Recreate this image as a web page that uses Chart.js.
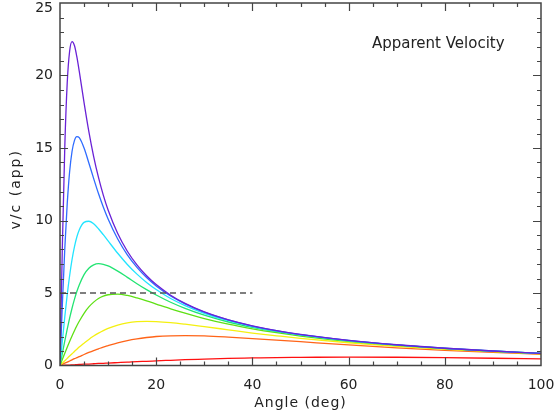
<!DOCTYPE html>
<html>
<head>
<meta charset="utf-8">
<script src="https://cdn.jsdelivr.net/npm/chart.js@4/dist/chart.umd.min.js"></script>
<style>
  html, body { margin: 0; padding: 0; background: #fff; }
  #wrap { width: 555px; height: 419px; }
</style>
</head>
<body>
<div id="wrap"><canvas id="velChart"></canvas></div>
<script>
// viewing angle (deg) and apparent speed
const angles = [0, 0.5, 1, 1.5, 2, 2.5, 3, 3.5, 4, 5, 6, 7, 8, 9, 10, 12, 14, 16, 18, 20, 23, 26, 30, 35, 40, 45, 50, 60, 70, 80, 90, 100];

const beta999 = [0, 8.40, 15.13, 19.48, 21.67, 22.34, 22.07, 21.30, 20.30, 18.13, 16.13, 14.41, 12.97, 11.75, 10.72, 9.10, 7.88, 6.94, 6.19, 5.58, 4.85, 4.29, 3.70, 3.15, 2.74, 2.41, 2.14, 1.73, 1.43, 1.19, 1.00, 0.84];
const beta998 = [0, 4.27, 8.09, 11.15, 13.36, 14.76, 15.51, 15.78, 15.71, 15.00, 13.97, 12.89, 11.86, 10.93, 10.10, 8.72, 7.63, 6.77, 6.07, 5.49, 4.79, 4.25, 3.68, 3.14, 2.72, 2.40, 2.13, 1.73, 1.42, 1.19, 1.00, 0.84];
const beta995 = [0, 1.72, 3.37, 4.88, 6.19, 7.30, 8.18, 8.86, 9.35, 9.87, 9.95, 9.77, 9.43, 9.02, 8.59, 7.74, 6.97, 6.30, 5.73, 5.24, 4.62, 4.13, 3.60, 3.09, 2.69, 2.37, 2.12, 1.72, 1.42, 1.18, 1.00, 0.84];
const beta990 = [0, 0.86, 1.70, 2.51, 3.26, 3.95, 4.56, 5.10, 5.56, 6.27, 6.71, 6.94, 7.02, 6.98, 6.87, 6.51, 6.08, 5.64, 5.23, 4.86, 4.36, 3.94, 3.47, 3.00, 2.63, 2.33, 2.09, 1.70, 1.41, 1.18, 0.99, 0.83];
const beta980 = [0, 0.43, 0.85, 1.26, 1.66, 2.04, 2.40, 2.74, 3.05, 3.60, 4.04, 4.37, 4.62, 4.78, 4.88, 4.92, 4.83, 4.66, 4.46, 4.24, 3.91, 3.61, 3.24, 2.85, 2.53, 2.26, 2.03, 1.66, 1.39, 1.16, 0.98, 0.82];
const beta950 = [0, 0.17, 0.33, 0.49, 0.66, 0.81, 0.97, 1.12, 1.27, 1.54, 1.80, 2.03, 2.23, 2.41, 2.56, 2.79, 2.94, 3.02, 3.04, 3.03, 2.96, 2.85, 2.68, 2.46, 2.24, 2.05, 1.87, 1.57, 1.32, 1.12, 0.95, 0.80];
const beta900 = [0, 0.08, 0.16, 0.23, 0.31, 0.39, 0.47, 0.54, 0.61, 0.76, 0.90, 1.03, 1.15, 1.27, 1.37, 1.56, 1.72, 1.84, 1.93, 2.00, 2.05, 2.06, 2.04, 1.96, 1.86, 1.75, 1.64, 1.42, 1.22, 1.05, 0.90, 0.77];
const beta500 = [0, 0.01, 0.02, 0.03, 0.03, 0.04, 0.05, 0.06, 0.07, 0.09, 0.10, 0.12, 0.14, 0.15, 0.17, 0.20, 0.23, 0.27, 0.29, 0.32, 0.36, 0.40, 0.44, 0.49, 0.52, 0.55, 0.56, 0.58, 0.57, 0.54, 0.50, 0.45];

// dashed reference at v/c = 5
const refAngles = [0, 40];
const refLevel = [5, 5];

const xTicks = [0, 20, 40, 60, 80, 100];
const yTicks = [0, 5, 10, 15, 20, 25];

const FONT = { family: 'DejaVu Sans', size: 14 };

function pts(xs, ys) {
    return xs.map((x, i) => ({ x: x, y: ys[i] }));
}

function curve(ys, color) {
    return {
        data: pts(angles, ys),
        borderColor: color,
        borderWidth: 1.3,
        pointRadius: 0,
        cubicInterpolationMode: 'monotone',
        fill: false
    };
}

// IDL style frame with inward ticks on all four sides, y labels and titles
const frame = {
    id: 'frame',
    afterDraw(chart) {
        const c = chart.ctx, a = chart.chartArea;
        const xs = chart.scales.x, ys = chart.scales.y;
        c.save();
        c.strokeStyle = '#444';
        c.lineWidth = 1.5;
        c.strokeRect(a.left, a.top, a.right - a.left, a.bottom - a.top);
        c.lineWidth = 1.2;
        c.beginPath();
        for (let v = 5; v < 100; v += 5) {
            const p = Math.round(xs.getPixelForValue(v)) + 0.5;
            const len = v % 20 === 0 ? 8 : 4;
            c.moveTo(p, a.bottom); c.lineTo(p, a.bottom - len);
            c.moveTo(p, a.top); c.lineTo(p, a.top + len);
        }
        for (let v = 1; v < 25; v++) {
            const p = Math.round(ys.getPixelForValue(v)) + 0.5;
            const len = v % 5 === 0 ? 8 : 4;
            c.moveTo(a.left, p); c.lineTo(a.left + len, p);
            c.moveTo(a.right, p); c.lineTo(a.right - len, p);
        }
        c.stroke();

        c.fillStyle = '#222';
        c.font = '14px "DejaVu Sans"';
        c.textBaseline = 'middle';
        c.textAlign = 'right';
        yTicks.forEach(v => {
            const p = Math.max(ys.getPixelForValue(v), a.top + 5.5);
            c.fillText(String(v), a.left - 7, p);
        });

        c.textAlign = 'center';
        c.letterSpacing = '1px';
        c.fillText('Angle (deg)', (a.left + a.right) / 2, a.bottom + 38);
        c.save();
        c.translate(a.left - 44, (a.top + a.bottom) / 2 + 5);
        c.rotate(-Math.PI / 2);
        c.letterSpacing = '2px';
        c.fillText('v/c (app)', 0, 0);
        c.restore();

        c.letterSpacing = '0px';
        c.textAlign = 'left';
        c.font = '15px "DejaVu Sans"';
        c.fillText('Apparent Velocity', a.right - 169, a.top + 41);
        c.restore();
    }
};

new Chart(document.getElementById('velChart'), {
    type: 'line',
    data: {
        datasets: [
            {
                data: pts(refAngles, refLevel),
                borderColor: '#555',
                borderWidth: 1.3,
                borderDash: [6, 4],
                pointRadius: 0,
                fill: false
            },
            curve(beta999, '#6a22d6'),
            curve(beta998, '#2f6cff'),
            curve(beta995, '#22e4ff'),
            curve(beta990, '#22e472'),
            curve(beta980, '#5ee014'),
            curve(beta950, '#f4f010'),
            curve(beta900, '#ff6418'),
            curve(beta500, '#ff1010')
        ]
    },
    options: {
        responsive: true,
        maintainAspectRatio: false,
        animation: false,
        layout: { padding: { top: 3, right: 14, left: 0, bottom: 0 } },
        plugins: {
            legend: { display: false },
            tooltip: { enabled: false }
        },
        scales: {
            x: {
                type: 'linear',
                min: 0,
                max: 100,
                afterBuildTicks: s => { s.ticks = xTicks.map(v => ({ value: v })); },
                afterFit: s => { s.height = 53.5; s.paddingLeft = 0; s.paddingRight = 0; },
                grid: { display: false, drawTicks: false },
                border: { display: false },
                ticks: { font: FONT, color: '#222', padding: 11, maxRotation: 0 }
            },
            y: {
                min: 0,
                max: 25,
                afterBuildTicks: s => { s.ticks = yTicks.map(v => ({ value: v })); },
                afterFit: s => { s.width = 60; s.paddingTop = 0; s.paddingBottom = 0; },
                grid: { display: false, drawTicks: false },
                border: { display: false },
                ticks: { display: false }
            }
        }
    },
    plugins: [frame]
});
</script>
</body>
</html>
